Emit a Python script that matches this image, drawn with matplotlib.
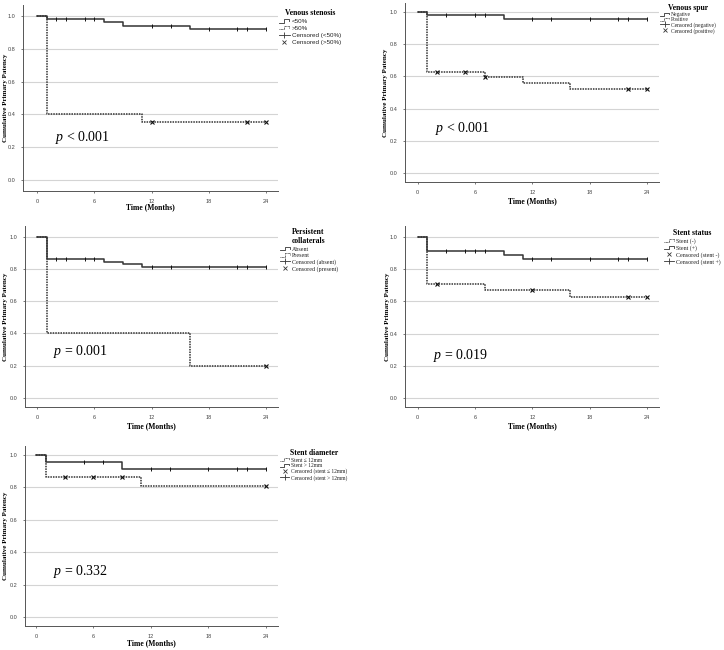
import numpy as np
import matplotlib
matplotlib.use("Agg")
import matplotlib.pyplot as plt
from matplotlib.lines import Line2D
from matplotlib.legend_handler import HandlerBase

plt.rcParams['mathtext.fontset'] = 'custom'
plt.rcParams['mathtext.it'] = 'Liberation Serif:italic'
plt.rcParams['mathtext.rm'] = 'Liberation Serif'

SERIF = 'Liberation Serif'
SANS = 'Liberation Sans'
DARK = '#333333'

# ---------------- data ----------------
# Venous stenosis
vs_lo_t = [0, 1, 7, 9, 16, 24]
vs_lo_s = [1.0, 0.982, 0.963, 0.941, 0.919, 0.919]
vs_lo_cens = [2, 3, 5, 6, 12, 14, 18, 21, 22, 24]
vs_hi_t = [0, 1, 11, 24]
vs_hi_s = [1.0, 0.40, 0.352, 0.352]
vs_hi_cens = [12, 22, 24]

# Venous spur
sp_neg_t = [0, 1, 9, 24]
sp_neg_s = [1.0, 0.978, 0.952, 0.952]
sp_neg_cens = [3, 6, 7, 12, 14, 18, 21, 22, 24]
sp_pos_t = [0, 1, 7, 11, 16, 24]
sp_pos_s = [1.0, 0.628, 0.594, 0.557, 0.52, 0.52]
sp_pos_cens = [2, 5, 7, 22, 24]

# Persistent collaterals
pc_abs_t = [0, 1, 7, 9, 11, 24]
pc_abs_s = [1.0, 0.86, 0.843, 0.828, 0.812, 0.812]
pc_abs_cens = [2, 3, 5, 6, 12, 14, 18, 21, 22, 24]
pc_pre_t = [0, 1, 16, 24]
pc_pre_s = [1.0, 0.40, 0.20, 0.20]
pc_pre_cens = [24]

# Stent status
st_neg_t = [0, 1, 7, 16, 24]
st_neg_s = [1.0, 0.705, 0.669, 0.628, 0.628]
st_neg_cens = [2, 12, 22, 24]
st_pos_t = [0, 1, 9, 11, 24]
st_pos_s = [1.0, 0.913, 0.888, 0.864, 0.864]
st_pos_cens = [3, 5, 6, 7, 12, 14, 18, 21, 22, 24]

# Stent diameter
sd_small_t = [0, 1, 11, 24]
sd_small_s = [1.0, 0.865, 0.807, 0.807]
sd_small_cens = [3, 6, 9, 24]
sd_big_t = [0, 1, 9, 24]
sd_big_s = [1.0, 0.957, 0.912, 0.912]
sd_big_cens = [5, 7, 12, 14, 18, 21, 22, 24]

p_labels = ['$p$ < 0.001', '$p$ < 0.001', '$p$ = 0.001', '$p$ = 0.019', '$p$ = 0.332']
x_ticks = [0, 6, 12, 18, 24]
y_ticks = [0.0, 0.2, 0.4, 0.6, 0.8, 1.0]

W, H = 724, 650
fig = plt.figure(figsize=(W / 100, H / 100), dpi=100)


def px_axes(x0, y0, x1, y1):
    return fig.add_axes([x0 / W, 1 - y1 / H, (x1 - x0) / W, (y1 - y0) / H])


class StepHandler(HandlerBase):
    def create_artists(self, legend, orig_handle, xdescent, ydescent,
                       width, height, fontsize, trans):
        xs = np.array([0.0, 0.45, 0.45, 0.95, 0.95]) * width - xdescent
        ys = np.array([0.1, 0.1, 0.9, 0.9, 0.45]) * height - ydescent
        ln = Line2D(xs, ys)
        ln.update_from(orig_handle)
        ln.set_marker('None')
        ln.set_linewidth(0.6)
        ln.set_transform(trans)
        return [ln]


def surv_at(t, s, times):
    idx = np.searchsorted(t, times, side='right') - 1
    return np.array(s)[idx]


def km(ax, t, s, cens, dotted):
    ls = (0, (1, 0.7)) if dotted else '-'
    ax.step(t, s, where='post', color=DARK, lw=1.1, linestyle=ls, zorder=3)
    yc = surv_at(t, s, cens)
    if dotted:
        ax.plot(cens, yc, linestyle='none', marker='x', ms=2.2, mew=0.8,
                color='#111111', zorder=4)
    else:
        ax.plot(cens, yc, linestyle='none', marker='|', ms=3.5, mew=0.7,
                color='#111111', zorder=4)


def style(ax, box, xlim, ylim, xlab_y, ylab_x, ptext):
    x0, y0, x1, y1 = box
    ax.set_xlim(xlim)
    ax.set_ylim(ylim)
    ax.set_xticks(x_ticks)
    ax.set_yticks(y_ticks)
    ax.set_yticklabels([f'{v:.1f}' for v in y_ticks])
    for sp in ['top', 'right']:
        ax.spines[sp].set_visible(False)
    for sp in ['left', 'bottom']:
        ax.spines[sp].set_color('#555555')
        ax.spines[sp].set_linewidth(0.7)
    ax.grid(axis='y', color='#d4d4d4', lw=0.8, zorder=0)
    ax.set_axisbelow(True)
    ax.tick_params(labelsize=4, colors='#444444', length=1.5, width=0.5, pad=4)
    for lab in ax.get_xticklabels() + ax.get_yticklabels():
        lab.set_fontfamily(SANS)
    ax.set_xlabel('Time (Months)', fontsize=5.5, fontweight='bold',
                  fontfamily=SERIF, va='center')
    ax.xaxis.set_label_coords(0.5, -(xlab_y - y1) / (y1 - y0))
    ax.set_ylabel('Cumulative Primary Patency', fontsize=5, fontweight='bold',
                  fontfamily=SERIF, va='center')
    ax.yaxis.set_label_coords(-(x0 - ylab_x) / (x1 - x0), 0.5)
    ax.text(ptext[0], ptext[1], ptext[2], fontsize=10, fontfamily=SERIF,
            va='center', ha='left')


def add_legend(ax, title, labels, kinds, anchor, fontsize, family, spacing):
    handles = []
    hmap = {}
    for kind in kinds:
        if kind == 'solid':
            h = Line2D([], [], color=DARK, linestyle='-')
            hmap[h] = StepHandler()
        elif kind == 'dotted':
            h = Line2D([], [], color=DARK, linestyle=(0, (1, 0.7)))
            hmap[h] = StepHandler()
        elif kind == 'plus':
            h = Line2D([], [], color=DARK, linestyle='-', lw=0.6, marker='|',
                       ms=5, mew=0.6)
        else:
            h = Line2D([], [], color=DARK, linestyle='none', marker='x',
                       ms=3.5, mew=0.6)
        handles.append(h)
    leg = ax.legend(handles, labels, title=title, handler_map=hmap,
                    loc='upper left',
                    bbox_to_anchor=(anchor[0] / W, 1 - anchor[1] / H),
                    bbox_transform=fig.transFigure, frameon=False,
                    fontsize=fontsize, prop={'family': family, 'size': fontsize},
                    handlelength=1.7, handletextpad=0.3, labelspacing=spacing,
                    borderpad=0, borderaxespad=0, numpoints=1)
    leg.get_title().set_fontfamily(SERIF)
    leg.get_title().set_fontweight('bold')
    leg.get_title().set_fontsize(5.5)
    for txt in leg.get_texts():
        txt.set_color('#222222')
    return leg


# ---------------- panel 1: venous stenosis ----------------
box = (23, 5, 278, 191)
ax1 = px_axes(*box)
km(ax1, vs_lo_t, vs_lo_s, vs_lo_cens, False)
km(ax1, vs_hi_t, vs_hi_s, vs_hi_cens, True)
style(ax1, box, (-1.47, 25.26), (-0.067, 1.067), 207, 6, (1.9, 0.26, p_labels[0]))
add_legend(ax1, 'Venous stenosis', ['<50%', '>50%', 'Censored (<50%)', 'Censored (>50%)'],
           ['solid', 'dotted', 'plus', 'x'], (279, 9), 4.5, SANS, 0.25)

# ---------------- panel 2: venous spur ----------------
box = (405, 3, 659, 182)
ax2 = px_axes(*box)
km(ax2, sp_neg_t, sp_neg_s, sp_neg_cens, False)
km(ax2, sp_pos_t, sp_pos_s, sp_pos_cens, True)
style(ax2, box, (-1.33, 25.27), (-0.054, 1.054), 201, 386, (1.8, 0.28, p_labels[1]))
add_legend(ax2, 'Venous spur', ['Negative', 'Positive', 'Censored (negative)', 'Censored (positive)'],
           ['solid', 'dotted', 'plus', 'x'], (660, 4), 4, SERIF, 0.0)

# ---------------- panel 3: persistent collaterals ----------------
box = (25, 226, 278, 407)
ax3 = px_axes(*box)
km(ax3, pc_abs_t, pc_abs_s, pc_abs_cens, False)
km(ax3, pc_pre_t, pc_pre_s, pc_pre_cens, True)
style(ax3, box, (-1.26, 25.26), (-0.056, 1.066), 426, 6, (1.7, 0.285, p_labels[2]))
add_legend(ax3, 'Persistent\ncollaterals', ['Absent', 'Present', 'Censored (absent)', 'Censored (present)'],
           ['solid', 'dotted', 'plus', 'x'], (280, 228), 4.3, SERIF, 0.2)

# ---------------- panel 4: stent status ----------------
box = (405, 226, 659, 407)
ax4 = px_axes(*box)
km(ax4, st_pos_t, st_pos_s, st_pos_cens, False)
km(ax4, st_neg_t, st_neg_s, st_neg_cens, True)
style(ax4, box, (-1.33, 25.27), (-0.054, 1.066), 426, 387, (1.57, 0.264, p_labels[3]))
add_legend(ax4, 'Stent status', ['Stent (-)', 'Stent (+)', 'Censored (stent -)', 'Censored (stent +)'],
           ['dotted', 'solid', 'x', 'plus'], (664, 229), 4.3, SERIF, 0.2)

# ---------------- panel 5: stent diameter ----------------
box = (25, 446, 278, 626)
ax5 = px_axes(*box)
km(ax5, sd_big_t, sd_big_s, sd_big_cens, False)
km(ax5, sd_small_t, sd_small_s, sd_small_cens, True)
style(ax5, box, (-1.15, 25.26), (-0.054, 1.055), 643, 6, (1.8, 0.28, p_labels[4]))
add_legend(ax5, 'Stent diameter', ['Stent ≤ 12mm', 'Stent > 12mm',
                                   'Censored (stent ≤ 12mm)', 'Censored (stent > 12mm)'],
           ['dotted', 'solid', 'x', 'plus'], (280, 449), 4.0, SERIF, 0.1)

fig.savefig('out.png', dpi=100)
